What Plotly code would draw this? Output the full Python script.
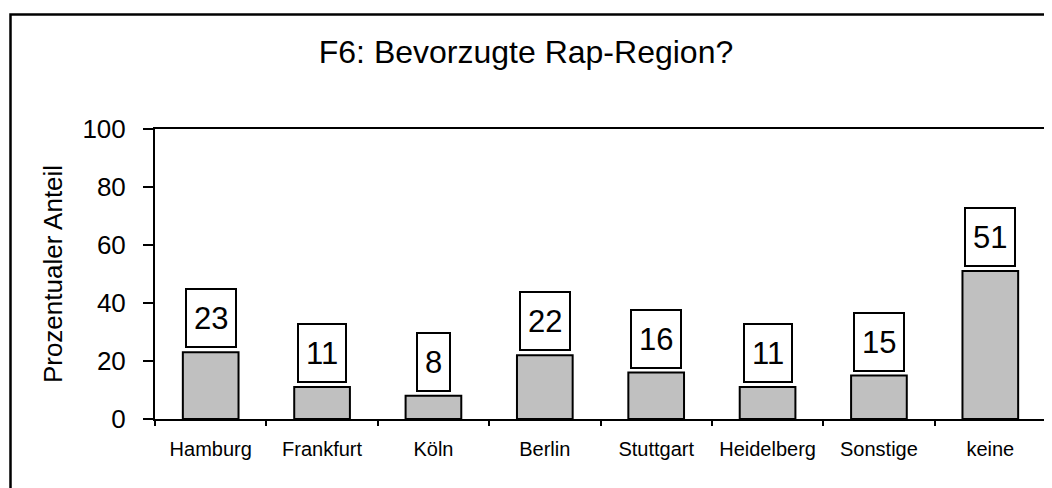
import plotly.graph_objects as go

categories = ["Hamburg", "Frankfurt", "Köln", "Berlin", "Stuttgart", "Heidelberg", "Sonstige", "keine"]
values = [23, 11, 8, 22, 16, 11, 15, 51]
y_ticks = [0, 20, 40, 60, 80, 100]

FONT = "Arial, Liberation Sans, sans-serif"
W, H = 1052, 488
OFF = 8  # page body margin offset
L, R, T, B = 155 - OFF, 6 + OFF, 129 - OFF, 69 + OFF
pw, ph = W - L - R, H - T - B

fig = go.Figure()
fig.add_trace(go.Bar(
    x=categories, y=values,
    marker=dict(color="#C0C0C0", line=dict(color="black", width=2)),
    width=0.5, hoverinfo="x+y",
))

for c, v in zip(categories, values):
    fig.add_annotation(
        x=c, y=v, xref="x", yref="y", text=str(v), showarrow=False,
        yanchor="bottom", yshift=4, height=42,
        font=dict(family=FONT, size=31, color="black"),
        bgcolor="white", bordercolor="black", borderwidth=2, borderpad=7,
    )


def px_to_paper_x(px):
    return (px - OFF - L) / pw


def px_to_paper_y(py):
    return (H - B - (py - OFF)) / ph


# outer chart border (extends beyond the visible image on right/bottom)
fig.add_shape(type="rect", xref="paper", yref="paper",
              x0=px_to_paper_x(10.5), x1=px_to_paper_x(1080),
              y0=px_to_paper_y(530), y1=px_to_paper_y(14.5),
              line=dict(color="black", width=2.5), fillcolor="rgba(0,0,0,0)", layer="above")

fig.update_layout(
    width=W, height=H,
    margin=dict(l=L, r=R, t=T, b=B, autoexpand=False),
    paper_bgcolor="white", plot_bgcolor="white",
    showlegend=False,
    title=dict(text="F6: Bevorzugte Rap-Region?", x=(526 - OFF) / W, xanchor="center",
               y=1 - (52 - OFF) / H, yanchor="middle", yref="container",
               font=dict(family=FONT, size=32, color="black")),
    xaxis=dict(
        type="category", tickson="boundaries", ticks="outside", ticklen=5, tickwidth=2,
        tickcolor="black", showline=True, linecolor="black", linewidth=2, mirror=True,
        showgrid=False, tickfont=dict(family=FONT, size=20, color="black"),
        tickangle=0, ticklabelstandoff=11, range=[-0.5, 7.5],
    ),
    yaxis=dict(
        range=[0, 100], tickvals=y_ticks, ticks="outside", ticklen=10, tickwidth=2,
        tickcolor="black", showline=True, linecolor="black", linewidth=2, mirror=True,
        showgrid=False, zeroline=False,
        tickfont=dict(family=FONT, size=26, color="black"), ticklabelstandoff=12,
        title=dict(text="Prozentualer Anteil", standoff=12,
                   font=dict(family=FONT, size=26, color="black")),
    ),
)

fig.write_html("out.html")
